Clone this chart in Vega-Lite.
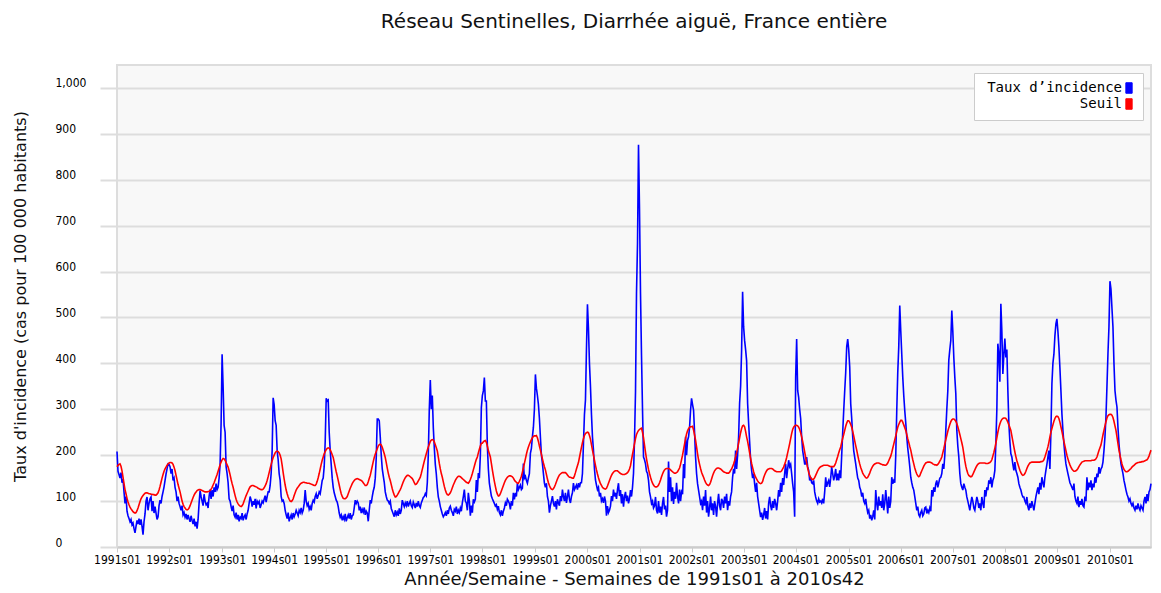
{
"$schema":"https://vega.github.io/schema/vega-lite/v6.json",
"autosize":{"type":"none"},
"width":1034,"height":482,
"padding":{"left":117,"top":65,"right":10,"bottom":46},
"background":"#ffffff",
"title":{"text":"Réseau Sentinelles, Diarrhée aiguë, France entière","font":"DejaVu Sans","fontSize":20,"fontWeight":"normal","color":"#111111","anchor":"middle","offset":33},
"config":{"view":{"fill":"#f8f8f8","stroke":"#dddddd","strokeWidth":2}},
"data":{"values":[
{"w":"1991s01","t":208,"s":175},{"w":"1991s02","t":165,"s":178},{"w":"1991s03","t":158,"s":180},{"w":"1991s04","t":150,"s":181},{"w":"1991s05","t":162,"s":176},{"w":"1991s06","t":140,"s":166},{"w":"1991s07","t":148,"s":152},{"w":"1991s08","t":120,"s":138},{"w":"1991s09","t":95,"s":125},{"w":"1991s10","t":110,"s":116},{"w":"1991s11","t":78,"s":106},{"w":"1991s12","t":68,"s":98},{"w":"1991s13","t":62,"s":92},{"w":"1991s14","t":55,"s":87},{"w":"1991s15","t":60,"s":83},{"w":"1991s16","t":48,"s":80},{"w":"1991s17","t":52,"s":77},{"w":"1991s18","t":40,"s":75},{"w":"1991s19","t":31,"s":74},{"w":"1991s20","t":45,"s":75},{"w":"1991s21","t":58,"s":79},{"w":"1991s22","t":50,"s":85},{"w":"1991s23","t":62,"s":92},{"w":"1991s24","t":48,"s":99},{"w":"1991s25","t":60,"s":105},{"w":"1991s26","t":45,"s":109},{"w":"1991s27","t":27,"s":112},{"w":"1991s28","t":55,"s":115},{"w":"1991s29","t":72,"s":117},{"w":"1991s30","t":100,"s":118},{"w":"1991s31","t":109,"s":118},{"w":"1991s32","t":80,"s":117},{"w":"1991s33","t":95,"s":116},{"w":"1991s34","t":105,"s":116},{"w":"1991s35","t":109,"s":115},{"w":"1991s36","t":78,"s":115},{"w":"1991s37","t":100,"s":114},{"w":"1991s38","t":74,"s":114},{"w":"1991s39","t":88,"s":113},{"w":"1991s40","t":74,"s":113},{"w":"1991s41","t":60,"s":115},{"w":"1991s42","t":66,"s":118},{"w":"1991s43","t":90,"s":124},{"w":"1991s44","t":102,"s":132},{"w":"1991s45","t":95,"s":141},{"w":"1991s46","t":110,"s":150},{"w":"1991s47","t":120,"s":158},{"w":"1991s48","t":131,"s":165},{"w":"1991s49","t":145,"s":170},{"w":"1991s50","t":159,"s":174},{"w":"1991s51","t":170,"s":178},{"w":"1991s52","t":181,"s":181},
{"w":"1992s01","t":180,"s":183},{"w":"1992s02","t":175,"s":184},{"w":"1992s03","t":160,"s":184},{"w":"1992s04","t":170,"s":183},{"w":"1992s05","t":145,"s":180},{"w":"1992s06","t":150,"s":174},{"w":"1992s07","t":130,"s":166},{"w":"1992s08","t":120,"s":156},{"w":"1992s09","t":100,"s":146},{"w":"1992s10","t":110,"s":136},{"w":"1992s11","t":95,"s":128},{"w":"1992s12","t":88,"s":120},{"w":"1992s13","t":80,"s":110},{"w":"1992s14","t":90,"s":100},{"w":"1992s15","t":70,"s":93},{"w":"1992s16","t":75,"s":88},{"w":"1992s17","t":65,"s":85},{"w":"1992s18","t":72,"s":82},{"w":"1992s19","t":60,"s":81},{"w":"1992s20","t":70,"s":82},{"w":"1992s21","t":62,"s":85},{"w":"1992s22","t":55,"s":90},{"w":"1992s23","t":68,"s":96},{"w":"1992s24","t":58,"s":102},{"w":"1992s25","t":50,"s":108},{"w":"1992s26","t":62,"s":113},{"w":"1992s27","t":45,"s":117},{"w":"1992s28","t":55,"s":120},{"w":"1992s29","t":40,"s":123},{"w":"1992s30","t":60,"s":124},{"w":"1992s31","t":95,"s":125},{"w":"1992s32","t":123,"s":125},{"w":"1992s33","t":110,"s":124},{"w":"1992s34","t":100,"s":123},{"w":"1992s35","t":90,"s":122},{"w":"1992s36","t":115,"s":121},{"w":"1992s37","t":100,"s":120},{"w":"1992s38","t":92,"s":120},{"w":"1992s39","t":95,"s":120},{"w":"1992s40","t":85,"s":121},{"w":"1992s41","t":110,"s":121},{"w":"1992s42","t":125,"s":123},{"w":"1992s43","t":105,"s":126},{"w":"1992s44","t":124,"s":130},{"w":"1992s45","t":110,"s":135},{"w":"1992s46","t":130,"s":140},{"w":"1992s47","t":120,"s":146},{"w":"1992s48","t":138,"s":152},{"w":"1992s49","t":125,"s":158},{"w":"1992s50","t":130,"s":165},{"w":"1992s51","t":150,"s":172},{"w":"1992s52","t":180,"s":179},{"w":"1992s53","t":270,"s":185},
{"w":"1993s01","t":420,"s":190},{"w":"1993s02","t":350,"s":193},{"w":"1993s03","t":265,"s":192},{"w":"1993s04","t":250,"s":189},{"w":"1993s05","t":175,"s":184},{"w":"1993s06","t":160,"s":179},{"w":"1993s07","t":140,"s":174},{"w":"1993s08","t":105,"s":166},{"w":"1993s09","t":100,"s":157},{"w":"1993s10","t":88,"s":147},{"w":"1993s11","t":78,"s":138},{"w":"1993s12","t":90,"s":130},{"w":"1993s13","t":70,"s":121},{"w":"1993s14","t":65,"s":112},{"w":"1993s15","t":75,"s":104},{"w":"1993s16","t":60,"s":98},{"w":"1993s17","t":70,"s":94},{"w":"1993s18","t":56,"s":91},{"w":"1993s19","t":65,"s":89},{"w":"1993s20","t":62,"s":88},{"w":"1993s21","t":74,"s":90},{"w":"1993s22","t":58,"s":94},{"w":"1993s23","t":66,"s":100},{"w":"1993s24","t":70,"s":106},{"w":"1993s25","t":60,"s":112},{"w":"1993s26","t":72,"s":117},{"w":"1993s27","t":80,"s":122},{"w":"1993s28","t":95,"s":127},{"w":"1993s29","t":110,"s":131},{"w":"1993s30","t":102,"s":133},{"w":"1993s31","t":88,"s":134},{"w":"1993s32","t":100,"s":134},{"w":"1993s33","t":92,"s":133},{"w":"1993s34","t":105,"s":132},{"w":"1993s35","t":84,"s":131},{"w":"1993s36","t":100,"s":130},{"w":"1993s37","t":95,"s":128},{"w":"1993s38","t":99,"s":127},{"w":"1993s39","t":85,"s":126},{"w":"1993s40","t":92,"s":125},{"w":"1993s41","t":100,"s":125},{"w":"1993s42","t":96,"s":126},{"w":"1993s43","t":104,"s":129},{"w":"1993s44","t":112,"s":133},{"w":"1993s45","t":98,"s":138},{"w":"1993s46","t":110,"s":145},{"w":"1993s47","t":120,"s":153},{"w":"1993s48","t":120,"s":162},{"w":"1993s49","t":134,"s":171},{"w":"1993s50","t":160,"s":180},{"w":"1993s51","t":210,"s":188},{"w":"1993s52","t":325,"s":195},
{"w":"1994s01","t":310,"s":200},{"w":"1994s02","t":275,"s":205},{"w":"1994s03","t":265,"s":208},{"w":"1994s04","t":210,"s":209},{"w":"1994s05","t":190,"s":208},{"w":"1994s06","t":160,"s":205},{"w":"1994s07","t":145,"s":200},{"w":"1994s08","t":110,"s":192},{"w":"1994s09","t":100,"s":178},{"w":"1994s10","t":102,"s":162},{"w":"1994s11","t":95,"s":148},{"w":"1994s12","t":80,"s":135},{"w":"1994s13","t":70,"s":124},{"w":"1994s14","t":62,"s":116},{"w":"1994s15","t":75,"s":109},{"w":"1994s16","t":56,"s":104},{"w":"1994s17","t":64,"s":100},{"w":"1994s18","t":70,"s":99},{"w":"1994s19","t":60,"s":101},{"w":"1994s20","t":74,"s":105},{"w":"1994s21","t":66,"s":112},{"w":"1994s22","t":72,"s":118},{"w":"1994s23","t":80,"s":124},{"w":"1994s24","t":74,"s":128},{"w":"1994s25","t":68,"s":131},{"w":"1994s26","t":80,"s":134},{"w":"1994s27","t":75,"s":137},{"w":"1994s28","t":85,"s":139},{"w":"1994s29","t":74,"s":140},{"w":"1994s30","t":80,"s":141},{"w":"1994s31","t":95,"s":141},{"w":"1994s32","t":124,"s":140},{"w":"1994s33","t":100,"s":140},{"w":"1994s34","t":90,"s":139},{"w":"1994s35","t":95,"s":139},{"w":"1994s36","t":82,"s":139},{"w":"1994s37","t":88,"s":138},{"w":"1994s38","t":80,"s":137},{"w":"1994s39","t":95,"s":136},{"w":"1994s40","t":102,"s":135},{"w":"1994s41","t":98,"s":134},{"w":"1994s42","t":110,"s":134},{"w":"1994s43","t":116,"s":137},{"w":"1994s44","t":105,"s":143},{"w":"1994s45","t":112,"s":151},{"w":"1994s46","t":120,"s":160},{"w":"1994s47","t":116,"s":170},{"w":"1994s48","t":130,"s":180},{"w":"1994s49","t":145,"s":189},{"w":"1994s50","t":150,"s":196},{"w":"1994s51","t":175,"s":203},{"w":"1994s52","t":230,"s":208},
{"w":"1995s01","t":324,"s":212},{"w":"1995s02","t":318,"s":215},{"w":"1995s03","t":320,"s":216},{"w":"1995s04","t":250,"s":215},{"w":"1995s05","t":210,"s":212},{"w":"1995s06","t":180,"s":207},{"w":"1995s07","t":150,"s":201},{"w":"1995s08","t":130,"s":195},{"w":"1995s09","t":118,"s":185},{"w":"1995s10","t":110,"s":174},{"w":"1995s11","t":102,"s":164},{"w":"1995s12","t":98,"s":155},{"w":"1995s13","t":88,"s":145},{"w":"1995s14","t":74,"s":135},{"w":"1995s15","t":65,"s":125},{"w":"1995s16","t":70,"s":116},{"w":"1995s17","t":58,"s":110},{"w":"1995s18","t":66,"s":106},{"w":"1995s19","t":60,"s":105},{"w":"1995s20","t":72,"s":105},{"w":"1995s21","t":56,"s":107},{"w":"1995s22","t":64,"s":110},{"w":"1995s23","t":70,"s":116},{"w":"1995s24","t":62,"s":122},{"w":"1995s25","t":74,"s":128},{"w":"1995s26","t":60,"s":133},{"w":"1995s27","t":68,"s":138},{"w":"1995s28","t":70,"s":142},{"w":"1995s29","t":85,"s":145},{"w":"1995s30","t":102,"s":147},{"w":"1995s31","t":95,"s":148},{"w":"1995s32","t":100,"s":149},{"w":"1995s33","t":96,"s":148},{"w":"1995s34","t":80,"s":147},{"w":"1995s35","t":88,"s":146},{"w":"1995s36","t":74,"s":145},{"w":"1995s37","t":82,"s":143},{"w":"1995s38","t":76,"s":140},{"w":"1995s39","t":86,"s":137},{"w":"1995s40","t":70,"s":134},{"w":"1995s41","t":78,"s":134},{"w":"1995s42","t":74,"s":136},{"w":"1995s43","t":56,"s":142},{"w":"1995s44","t":80,"s":149},{"w":"1995s45","t":102,"s":156},{"w":"1995s46","t":95,"s":166},{"w":"1995s47","t":110,"s":176},{"w":"1995s48","t":122,"s":186},{"w":"1995s49","t":130,"s":195},{"w":"1995s50","t":150,"s":202},{"w":"1995s51","t":195,"s":208},{"w":"1995s52","t":279,"s":214},
{"w":"1996s01","t":279,"s":220},{"w":"1996s02","t":275,"s":223},{"w":"1996s03","t":240,"s":224},{"w":"1996s04","t":200,"s":222},{"w":"1996s05","t":170,"s":217},{"w":"1996s06","t":155,"s":210},{"w":"1996s07","t":141,"s":203},{"w":"1996s08","t":120,"s":195},{"w":"1996s09","t":110,"s":184},{"w":"1996s10","t":102,"s":172},{"w":"1996s11","t":100,"s":161},{"w":"1996s12","t":95,"s":152},{"w":"1996s13","t":100,"s":145},{"w":"1996s14","t":84,"s":136},{"w":"1996s15","t":78,"s":127},{"w":"1996s16","t":72,"s":119},{"w":"1996s17","t":66,"s":113},{"w":"1996s18","t":80,"s":109},{"w":"1996s19","t":70,"s":110},{"w":"1996s20","t":76,"s":113},{"w":"1996s21","t":68,"s":117},{"w":"1996s22","t":84,"s":121},{"w":"1996s23","t":72,"s":125},{"w":"1996s24","t":80,"s":130},{"w":"1996s25","t":102,"s":136},{"w":"1996s26","t":95,"s":142},{"w":"1996s27","t":88,"s":147},{"w":"1996s28","t":96,"s":151},{"w":"1996s29","t":90,"s":154},{"w":"1996s30","t":100,"s":156},{"w":"1996s31","t":88,"s":156},{"w":"1996s32","t":95,"s":155},{"w":"1996s33","t":100,"s":153},{"w":"1996s34","t":90,"s":151},{"w":"1996s35","t":86,"s":149},{"w":"1996s36","t":98,"s":145},{"w":"1996s37","t":92,"s":140},{"w":"1996s38","t":85,"s":136},{"w":"1996s39","t":96,"s":137},{"w":"1996s40","t":88,"s":140},{"w":"1996s41","t":100,"s":144},{"w":"1996s42","t":90,"s":148},{"w":"1996s43","t":86,"s":152},{"w":"1996s44","t":96,"s":160},{"w":"1996s45","t":102,"s":169},{"w":"1996s46","t":108,"s":178},{"w":"1996s47","t":110,"s":187},{"w":"1996s48","t":116,"s":195},{"w":"1996s49","t":112,"s":203},{"w":"1996s50","t":140,"s":211},{"w":"1996s51","t":202,"s":218},{"w":"1996s52","t":300,"s":224},
{"w":"1997s01","t":364,"s":230},{"w":"1997s02","t":300,"s":233},{"w":"1997s03","t":330,"s":234},{"w":"1997s04","t":260,"s":233},{"w":"1997s05","t":216,"s":229},{"w":"1997s06","t":180,"s":223},{"w":"1997s07","t":159,"s":216},{"w":"1997s08","t":130,"s":209},{"w":"1997s09","t":109,"s":196},{"w":"1997s10","t":100,"s":182},{"w":"1997s11","t":88,"s":170},{"w":"1997s12","t":80,"s":160},{"w":"1997s13","t":72,"s":152},{"w":"1997s14","t":66,"s":142},{"w":"1997s15","t":70,"s":132},{"w":"1997s16","t":75,"s":124},{"w":"1997s17","t":68,"s":118},{"w":"1997s18","t":80,"s":114},{"w":"1997s19","t":72,"s":113},{"w":"1997s20","t":85,"s":115},{"w":"1997s21","t":89,"s":118},{"w":"1997s22","t":80,"s":123},{"w":"1997s23","t":75,"s":129},{"w":"1997s24","t":68,"s":135},{"w":"1997s25","t":82,"s":140},{"w":"1997s26","t":78,"s":145},{"w":"1997s27","t":88,"s":149},{"w":"1997s28","t":72,"s":152},{"w":"1997s29","t":80,"s":154},{"w":"1997s30","t":75,"s":154},{"w":"1997s31","t":85,"s":153},{"w":"1997s32","t":78,"s":151},{"w":"1997s33","t":96,"s":149},{"w":"1997s34","t":110,"s":147},{"w":"1997s35","t":125,"s":145},{"w":"1997s36","t":100,"s":143},{"w":"1997s37","t":96,"s":141},{"w":"1997s38","t":80,"s":140},{"w":"1997s39","t":118,"s":139},{"w":"1997s40","t":100,"s":142},{"w":"1997s41","t":68,"s":147},{"w":"1997s42","t":90,"s":153},{"w":"1997s43","t":75,"s":160},{"w":"1997s44","t":104,"s":168},{"w":"1997s45","t":98,"s":176},{"w":"1997s46","t":104,"s":184},{"w":"1997s47","t":146,"s":191},{"w":"1997s48","t":120,"s":196},{"w":"1997s49","t":161,"s":205},{"w":"1997s50","t":150,"s":213},{"w":"1997s51","t":200,"s":220},{"w":"1997s52","t":304,"s":226},
{"w":"1998s01","t":330,"s":226},{"w":"1998s02","t":340,"s":229},{"w":"1998s03","t":369,"s":231},{"w":"1998s04","t":318,"s":232},{"w":"1998s05","t":318,"s":228},{"w":"1998s06","t":220,"s":220},{"w":"1998s07","t":170,"s":210},{"w":"1998s08","t":139,"s":203},{"w":"1998s09","t":125,"s":196},{"w":"1998s10","t":111,"s":182},{"w":"1998s11","t":105,"s":168},{"w":"1998s12","t":100,"s":155},{"w":"1998s13","t":95,"s":143},{"w":"1998s14","t":89,"s":132},{"w":"1998s15","t":92,"s":122},{"w":"1998s16","t":82,"s":115},{"w":"1998s17","t":89,"s":111},{"w":"1998s18","t":75,"s":112},{"w":"1998s19","t":70,"s":116},{"w":"1998s20","t":80,"s":122},{"w":"1998s21","t":68,"s":128},{"w":"1998s22","t":78,"s":134},{"w":"1998s23","t":85,"s":140},{"w":"1998s24","t":96,"s":145},{"w":"1998s25","t":90,"s":149},{"w":"1998s26","t":104,"s":152},{"w":"1998s27","t":100,"s":154},{"w":"1998s28","t":95,"s":155},{"w":"1998s29","t":82,"s":155},{"w":"1998s30","t":100,"s":154},{"w":"1998s31","t":90,"s":153},{"w":"1998s32","t":118,"s":150},{"w":"1998s33","t":104,"s":146},{"w":"1998s34","t":118,"s":143},{"w":"1998s35","t":110,"s":141},{"w":"1998s36","t":139,"s":139},{"w":"1998s37","t":125,"s":139},{"w":"1998s38","t":130,"s":143},{"w":"1998s39","t":135,"s":148},{"w":"1998s40","t":125,"s":154},{"w":"1998s41","t":128,"s":163},{"w":"1998s42","t":182,"s":172},{"w":"1998s43","t":150,"s":182},{"w":"1998s44","t":154,"s":192},{"w":"1998s45","t":145,"s":202},{"w":"1998s46","t":139,"s":211},{"w":"1998s47","t":150,"s":218},{"w":"1998s48","t":160,"s":224},{"w":"1998s49","t":204,"s":229},{"w":"1998s50","t":215,"s":234},{"w":"1998s51","t":240,"s":238},{"w":"1998s52","t":261,"s":241},{"w":"1998s53","t":300,"s":242},
{"w":"1999s01","t":376,"s":242},{"w":"1999s02","t":346,"s":243},{"w":"1999s03","t":330,"s":238},{"w":"1999s04","t":311,"s":230},{"w":"1999s05","t":280,"s":220},{"w":"1999s06","t":239,"s":211},{"w":"1999s07","t":200,"s":202},{"w":"1999s08","t":182,"s":192},{"w":"1999s09","t":160,"s":183},{"w":"1999s10","t":139,"s":175},{"w":"1999s11","t":130,"s":168},{"w":"1999s12","t":139,"s":158},{"w":"1999s13","t":110,"s":148},{"w":"1999s14","t":100,"s":140},{"w":"1999s15","t":75,"s":134},{"w":"1999s16","t":90,"s":129},{"w":"1999s17","t":100,"s":126},{"w":"1999s18","t":111,"s":125},{"w":"1999s19","t":95,"s":127},{"w":"1999s20","t":88,"s":131},{"w":"1999s21","t":100,"s":136},{"w":"1999s22","t":82,"s":142},{"w":"1999s23","t":104,"s":148},{"w":"1999s24","t":96,"s":153},{"w":"1999s25","t":90,"s":157},{"w":"1999s26","t":111,"s":159},{"w":"1999s27","t":100,"s":161},{"w":"1999s28","t":125,"s":162},{"w":"1999s29","t":110,"s":162},{"w":"1999s30","t":100,"s":162},{"w":"1999s31","t":118,"s":162},{"w":"1999s32","t":96,"s":160},{"w":"1999s33","t":110,"s":157},{"w":"1999s34","t":125,"s":154},{"w":"1999s35","t":104,"s":152},{"w":"1999s36","t":96,"s":152},{"w":"1999s37","t":110,"s":151},{"w":"1999s38","t":118,"s":150},{"w":"1999s39","t":139,"s":150},{"w":"1999s40","t":125,"s":155},{"w":"1999s41","t":130,"s":162},{"w":"1999s42","t":135,"s":170},{"w":"1999s43","t":125,"s":177},{"w":"1999s44","t":139,"s":184},{"w":"1999s45","t":130,"s":195},{"w":"1999s46","t":140,"s":206},{"w":"1999s47","t":140,"s":217},{"w":"1999s48","t":160,"s":227},{"w":"1999s49","t":225,"s":236},{"w":"1999s50","t":289,"s":243},{"w":"1999s51","t":320,"s":247},{"w":"1999s52","t":430,"s":249},
{"w":"2000s01","t":529,"s":250},{"w":"2000s02","t":476,"s":249},{"w":"2000s03","t":400,"s":243},{"w":"2000s04","t":350,"s":235},{"w":"2000s05","t":289,"s":223},{"w":"2000s06","t":240,"s":211},{"w":"2000s07","t":211,"s":200},{"w":"2000s08","t":170,"s":189},{"w":"2000s09","t":146,"s":178},{"w":"2000s10","t":135,"s":168},{"w":"2000s11","t":125,"s":159},{"w":"2000s12","t":130,"s":151},{"w":"2000s13","t":110,"s":144},{"w":"2000s14","t":118,"s":138},{"w":"2000s15","t":100,"s":134},{"w":"2000s16","t":105,"s":130},{"w":"2000s17","t":96,"s":128},{"w":"2000s18","t":110,"s":127},{"w":"2000s19","t":100,"s":126},{"w":"2000s20","t":68,"s":128},{"w":"2000s21","t":89,"s":133},{"w":"2000s22","t":75,"s":139},{"w":"2000s23","t":80,"s":145},{"w":"2000s24","t":89,"s":151},{"w":"2000s25","t":111,"s":156},{"w":"2000s26","t":100,"s":160},{"w":"2000s27","t":125,"s":163},{"w":"2000s28","t":110,"s":165},{"w":"2000s29","t":118,"s":166},{"w":"2000s30","t":105,"s":166},{"w":"2000s31","t":125,"s":166},{"w":"2000s32","t":139,"s":164},{"w":"2000s33","t":111,"s":162},{"w":"2000s34","t":124,"s":160},{"w":"2000s35","t":95,"s":159},{"w":"2000s36","t":115,"s":158},{"w":"2000s37","t":88,"s":158},{"w":"2000s38","t":110,"s":158},{"w":"2000s39","t":120,"s":159},{"w":"2000s40","t":100,"s":160},{"w":"2000s41","t":112,"s":162},{"w":"2000s42","t":95,"s":165},{"w":"2000s43","t":105,"s":170},{"w":"2000s44","t":124,"s":177},{"w":"2000s45","t":110,"s":190},{"w":"2000s46","t":130,"s":202},{"w":"2000s47","t":160,"s":213},{"w":"2000s48","t":233,"s":225},{"w":"2000s49","t":337,"s":236},{"w":"2000s50","t":552,"s":245},{"w":"2000s51","t":660,"s":250},{"w":"2000s52","t":876,"s":254},
{"w":"2001s01","t":736,"s":256},{"w":"2001s02","t":552,"s":258},{"w":"2001s03","t":417,"s":259},{"w":"2001s04","t":300,"s":250},{"w":"2001s05","t":196,"s":238},{"w":"2001s06","t":190,"s":222},{"w":"2001s07","t":181,"s":206},{"w":"2001s08","t":165,"s":192},{"w":"2001s09","t":160,"s":180},{"w":"2001s10","t":145,"s":169},{"w":"2001s11","t":120,"s":160},{"w":"2001s12","t":109,"s":152},{"w":"2001s13","t":95,"s":145},{"w":"2001s14","t":100,"s":139},{"w":"2001s15","t":85,"s":135},{"w":"2001s16","t":90,"s":132},{"w":"2001s17","t":109,"s":131},{"w":"2001s18","t":80,"s":131},{"w":"2001s19","t":73,"s":132},{"w":"2001s20","t":100,"s":135},{"w":"2001s21","t":75,"s":140},{"w":"2001s22","t":88,"s":146},{"w":"2001s23","t":70,"s":153},{"w":"2001s24","t":95,"s":159},{"w":"2001s25","t":109,"s":164},{"w":"2001s26","t":82,"s":168},{"w":"2001s27","t":90,"s":170},{"w":"2001s28","t":66,"s":171},{"w":"2001s29","t":80,"s":171},{"w":"2001s30","t":186,"s":171},{"w":"2001s31","t":120,"s":170},{"w":"2001s32","t":152,"s":168},{"w":"2001s33","t":100,"s":166},{"w":"2001s34","t":130,"s":164},{"w":"2001s35","t":94,"s":162},{"w":"2001s36","t":120,"s":161},{"w":"2001s37","t":105,"s":161},{"w":"2001s38","t":140,"s":162},{"w":"2001s39","t":110,"s":164},{"w":"2001s40","t":95,"s":168},{"w":"2001s41","t":125,"s":172},{"w":"2001s42","t":100,"s":180},{"w":"2001s43","t":120,"s":190},{"w":"2001s44","t":115,"s":200},{"w":"2001s45","t":181,"s":212},{"w":"2001s46","t":150,"s":224},{"w":"2001s47","t":240,"s":236},{"w":"2001s48","t":200,"s":246},{"w":"2001s49","t":232,"s":253},{"w":"2001s50","t":240,"s":258},{"w":"2001s51","t":260,"s":261},{"w":"2001s52","t":298,"s":262},
{"w":"2002s01","t":324,"s":262},{"w":"2002s02","t":310,"s":263},{"w":"2002s03","t":298,"s":255},{"w":"2002s04","t":250,"s":244},{"w":"2002s05","t":196,"s":233},{"w":"2002s06","t":160,"s":218},{"w":"2002s07","t":138,"s":203},{"w":"2002s08","t":124,"s":190},{"w":"2002s09","t":110,"s":180},{"w":"2002s10","t":95,"s":171},{"w":"2002s11","t":100,"s":163},{"w":"2002s12","t":80,"s":157},{"w":"2002s13","t":110,"s":152},{"w":"2002s14","t":90,"s":146},{"w":"2002s15","t":124,"s":141},{"w":"2002s16","t":75,"s":137},{"w":"2002s17","t":100,"s":135},{"w":"2002s18","t":66,"s":134},{"w":"2002s19","t":85,"s":136},{"w":"2002s20","t":110,"s":141},{"w":"2002s21","t":80,"s":148},{"w":"2002s22","t":95,"s":155},{"w":"2002s23","t":70,"s":161},{"w":"2002s24","t":100,"s":166},{"w":"2002s25","t":88,"s":169},{"w":"2002s26","t":66,"s":171},{"w":"2002s27","t":95,"s":172},{"w":"2002s28","t":116,"s":172},{"w":"2002s29","t":90,"s":171},{"w":"2002s30","t":80,"s":170},{"w":"2002s31","t":105,"s":168},{"w":"2002s32","t":100,"s":166},{"w":"2002s33","t":85,"s":164},{"w":"2002s34","t":110,"s":163},{"w":"2002s35","t":95,"s":162},{"w":"2002s36","t":116,"s":161},{"w":"2002s37","t":80,"s":161},{"w":"2002s38","t":100,"s":161},{"w":"2002s39","t":90,"s":163},{"w":"2002s40","t":110,"s":167},{"w":"2002s41","t":120,"s":170},{"w":"2002s42","t":152,"s":175},{"w":"2002s43","t":170,"s":181},{"w":"2002s44","t":160,"s":188},{"w":"2002s45","t":210,"s":196},{"w":"2002s46","t":170,"s":205},{"w":"2002s47","t":200,"s":215},{"w":"2002s48","t":240,"s":226},{"w":"2002s49","t":313,"s":238},{"w":"2002s50","t":350,"s":249},{"w":"2002s51","t":428,"s":258},{"w":"2002s52","t":556,"s":264},
{"w":"2003s01","t":480,"s":265},{"w":"2003s02","t":450,"s":262},{"w":"2003s03","t":430,"s":252},{"w":"2003s04","t":406,"s":240},{"w":"2003s05","t":313,"s":230},{"w":"2003s06","t":270,"s":218},{"w":"2003s07","t":230,"s":205},{"w":"2003s08","t":190,"s":193},{"w":"2003s09","t":167,"s":182},{"w":"2003s10","t":150,"s":173},{"w":"2003s11","t":160,"s":164},{"w":"2003s12","t":138,"s":157},{"w":"2003s13","t":120,"s":152},{"w":"2003s14","t":140,"s":148},{"w":"2003s15","t":110,"s":144},{"w":"2003s16","t":95,"s":141},{"w":"2003s17","t":80,"s":139},{"w":"2003s18","t":65,"s":138},{"w":"2003s19","t":75,"s":139},{"w":"2003s20","t":59,"s":143},{"w":"2003s21","t":70,"s":151},{"w":"2003s22","t":85,"s":157},{"w":"2003s23","t":62,"s":162},{"w":"2003s24","t":78,"s":166},{"w":"2003s25","t":60,"s":169},{"w":"2003s26","t":95,"s":170},{"w":"2003s27","t":109,"s":171},{"w":"2003s28","t":90,"s":171},{"w":"2003s29","t":80,"s":171},{"w":"2003s30","t":100,"s":170},{"w":"2003s31","t":85,"s":168},{"w":"2003s32","t":105,"s":166},{"w":"2003s33","t":95,"s":165},{"w":"2003s34","t":80,"s":164},{"w":"2003s35","t":100,"s":164},{"w":"2003s36","t":124,"s":164},{"w":"2003s37","t":110,"s":164},{"w":"2003s38","t":140,"s":164},{"w":"2003s39","t":120,"s":166},{"w":"2003s40","t":150,"s":170},{"w":"2003s41","t":135,"s":174},{"w":"2003s42","t":160,"s":180},{"w":"2003s43","t":181,"s":187},{"w":"2003s44","t":150,"s":195},{"w":"2003s45","t":170,"s":205},{"w":"2003s46","t":189,"s":215},{"w":"2003s47","t":175,"s":225},{"w":"2003s48","t":180,"s":236},{"w":"2003s49","t":160,"s":247},{"w":"2003s50","t":138,"s":256},{"w":"2003s51","t":120,"s":261},{"w":"2003s52","t":66,"s":264},
{"w":"2004s01","t":370,"s":265},{"w":"2004s02","t":453,"s":265},{"w":"2004s03","t":341,"s":264},{"w":"2004s04","t":326,"s":261},{"w":"2004s05","t":300,"s":256},{"w":"2004s06","t":280,"s":249},{"w":"2004s07","t":240,"s":240},{"w":"2004s08","t":210,"s":230},{"w":"2004s09","t":196,"s":219},{"w":"2004s10","t":181,"s":207},{"w":"2004s11","t":181,"s":195},{"w":"2004s12","t":196,"s":183},{"w":"2004s13","t":175,"s":172},{"w":"2004s14","t":167,"s":163},{"w":"2004s15","t":145,"s":156},{"w":"2004s16","t":152,"s":151},{"w":"2004s17","t":140,"s":148},{"w":"2004s18","t":138,"s":147},{"w":"2004s19","t":145,"s":148},{"w":"2004s20","t":120,"s":151},{"w":"2004s21","t":109,"s":156},{"w":"2004s22","t":100,"s":161},{"w":"2004s23","t":95,"s":166},{"w":"2004s24","t":105,"s":170},{"w":"2004s25","t":98,"s":173},{"w":"2004s26","t":100,"s":175},{"w":"2004s27","t":96,"s":176},{"w":"2004s28","t":105,"s":177},{"w":"2004s29","t":95,"s":178},{"w":"2004s30","t":120,"s":178},{"w":"2004s31","t":152,"s":178},{"w":"2004s32","t":131,"s":178},{"w":"2004s33","t":140,"s":178},{"w":"2004s34","t":145,"s":177},{"w":"2004s35","t":131,"s":176},{"w":"2004s36","t":150,"s":175},{"w":"2004s37","t":174,"s":175},{"w":"2004s38","t":160,"s":175},{"w":"2004s39","t":145,"s":175},{"w":"2004s40","t":155,"s":178},{"w":"2004s41","t":170,"s":183},{"w":"2004s42","t":145,"s":190},{"w":"2004s43","t":160,"s":197},{"w":"2004s44","t":145,"s":205},{"w":"2004s45","t":167,"s":212},{"w":"2004s46","t":150,"s":218},{"w":"2004s47","t":200,"s":228},{"w":"2004s48","t":250,"s":237},{"w":"2004s49","t":297,"s":245},{"w":"2004s50","t":340,"s":254},{"w":"2004s51","t":380,"s":263},{"w":"2004s52","t":436,"s":270},{"w":"2004s53","t":453,"s":275},
{"w":"2005s01","t":430,"s":275},{"w":"2005s02","t":392,"s":272},{"w":"2005s03","t":312,"s":267},{"w":"2005s04","t":280,"s":261},{"w":"2005s05","t":240,"s":252},{"w":"2005s06","t":210,"s":242},{"w":"2005s07","t":195,"s":231},{"w":"2005s08","t":181,"s":221},{"w":"2005s09","t":165,"s":211},{"w":"2005s10","t":150,"s":200},{"w":"2005s11","t":145,"s":190},{"w":"2005s12","t":130,"s":181},{"w":"2005s13","t":124,"s":173},{"w":"2005s14","t":110,"s":167},{"w":"2005s15","t":118,"s":161},{"w":"2005s16","t":100,"s":157},{"w":"2005s17","t":95,"s":154},{"w":"2005s18","t":105,"s":151},{"w":"2005s19","t":87,"s":150},{"w":"2005s20","t":75,"s":152},{"w":"2005s21","t":80,"s":156},{"w":"2005s22","t":62,"s":161},{"w":"2005s23","t":70,"s":167},{"w":"2005s24","t":58,"s":172},{"w":"2005s25","t":66,"s":176},{"w":"2005s26","t":80,"s":179},{"w":"2005s27","t":60,"s":181},{"w":"2005s28","t":124,"s":182},{"w":"2005s29","t":95,"s":183},{"w":"2005s30","t":80,"s":183},{"w":"2005s31","t":110,"s":183},{"w":"2005s32","t":90,"s":182},{"w":"2005s33","t":100,"s":181},{"w":"2005s34","t":85,"s":180},{"w":"2005s35","t":115,"s":179},{"w":"2005s36","t":80,"s":179},{"w":"2005s37","t":95,"s":178},{"w":"2005s38","t":124,"s":178},{"w":"2005s39","t":100,"s":180},{"w":"2005s40","t":73,"s":183},{"w":"2005s41","t":110,"s":188},{"w":"2005s42","t":85,"s":193},{"w":"2005s43","t":100,"s":198},{"w":"2005s44","t":152,"s":206},{"w":"2005s45","t":138,"s":215},{"w":"2005s46","t":145,"s":224},{"w":"2005s47","t":140,"s":233},{"w":"2005s48","t":200,"s":242},{"w":"2005s49","t":297,"s":252},{"w":"2005s50","t":380,"s":261},{"w":"2005s51","t":436,"s":267},{"w":"2005s52","t":526,"s":272},
{"w":"2006s01","t":471,"s":276},{"w":"2006s02","t":420,"s":276},{"w":"2006s03","t":370,"s":272},{"w":"2006s04","t":330,"s":266},{"w":"2006s05","t":297,"s":260},{"w":"2006s06","t":270,"s":254},{"w":"2006s07","t":240,"s":245},{"w":"2006s08","t":215,"s":236},{"w":"2006s09","t":196,"s":228},{"w":"2006s10","t":175,"s":219},{"w":"2006s11","t":152,"s":211},{"w":"2006s12","t":140,"s":200},{"w":"2006s13","t":130,"s":190},{"w":"2006s14","t":124,"s":181},{"w":"2006s15","t":110,"s":172},{"w":"2006s16","t":95,"s":165},{"w":"2006s17","t":80,"s":159},{"w":"2006s18","t":88,"s":155},{"w":"2006s19","t":70,"s":153},{"w":"2006s20","t":66,"s":155},{"w":"2006s21","t":75,"s":161},{"w":"2006s22","t":80,"s":166},{"w":"2006s23","t":68,"s":171},{"w":"2006s24","t":72,"s":176},{"w":"2006s25","t":85,"s":180},{"w":"2006s26","t":87,"s":183},{"w":"2006s27","t":73,"s":184},{"w":"2006s28","t":80,"s":185},{"w":"2006s29","t":75,"s":185},{"w":"2006s30","t":85,"s":185},{"w":"2006s31","t":78,"s":184},{"w":"2006s32","t":124,"s":183},{"w":"2006s33","t":110,"s":181},{"w":"2006s34","t":130,"s":180},{"w":"2006s35","t":120,"s":179},{"w":"2006s36","t":138,"s":179},{"w":"2006s37","t":145,"s":178},{"w":"2006s38","t":130,"s":180},{"w":"2006s39","t":140,"s":183},{"w":"2006s40","t":150,"s":187},{"w":"2006s41","t":152,"s":191},{"w":"2006s42","t":160,"s":196},{"w":"2006s43","t":181,"s":205},{"w":"2006s44","t":170,"s":214},{"w":"2006s45","t":200,"s":224},{"w":"2006s46","t":254,"s":234},{"w":"2006s47","t":300,"s":243},{"w":"2006s48","t":340,"s":252},{"w":"2006s49","t":407,"s":260},{"w":"2006s50","t":430,"s":267},{"w":"2006s51","t":450,"s":273},{"w":"2006s52","t":515,"s":277},
{"w":"2007s01","t":470,"s":279},{"w":"2007s02","t":413,"s":279},{"w":"2007s03","t":370,"s":277},{"w":"2007s04","t":334,"s":274},{"w":"2007s05","t":254,"s":269},{"w":"2007s06","t":220,"s":262},{"w":"2007s07","t":196,"s":254},{"w":"2007s08","t":160,"s":245},{"w":"2007s09","t":138,"s":236},{"w":"2007s10","t":130,"s":227},{"w":"2007s11","t":124,"s":217},{"w":"2007s12","t":138,"s":203},{"w":"2007s13","t":130,"s":188},{"w":"2007s14","t":124,"s":176},{"w":"2007s15","t":109,"s":167},{"w":"2007s16","t":100,"s":160},{"w":"2007s17","t":90,"s":156},{"w":"2007s18","t":80,"s":154},{"w":"2007s19","t":95,"s":153},{"w":"2007s20","t":109,"s":154},{"w":"2007s21","t":100,"s":158},{"w":"2007s22","t":85,"s":163},{"w":"2007s23","t":80,"s":168},{"w":"2007s24","t":95,"s":173},{"w":"2007s25","t":109,"s":177},{"w":"2007s26","t":100,"s":180},{"w":"2007s27","t":85,"s":182},{"w":"2007s28","t":95,"s":183},{"w":"2007s29","t":80,"s":183},{"w":"2007s30","t":109,"s":183},{"w":"2007s31","t":95,"s":183},{"w":"2007s32","t":85,"s":183},{"w":"2007s33","t":124,"s":183},{"w":"2007s34","t":110,"s":182},{"w":"2007s35","t":130,"s":182},{"w":"2007s36","t":124,"s":182},{"w":"2007s37","t":145,"s":183},{"w":"2007s38","t":138,"s":184},{"w":"2007s39","t":152,"s":186},{"w":"2007s40","t":130,"s":190},{"w":"2007s41","t":145,"s":198},{"w":"2007s42","t":152,"s":206},{"w":"2007s43","t":167,"s":215},{"w":"2007s44","t":225,"s":226},{"w":"2007s45","t":300,"s":238},{"w":"2007s46","t":443,"s":250},{"w":"2007s47","t":420,"s":260},{"w":"2007s48","t":360,"s":268},{"w":"2007s49","t":530,"s":274},{"w":"2007s50","t":470,"s":278},{"w":"2007s51","t":377,"s":280},{"w":"2007s52","t":420,"s":281},
{"w":"2008s01","t":454,"s":281},{"w":"2008s02","t":413,"s":280},{"w":"2008s03","t":430,"s":277},{"w":"2008s04","t":341,"s":272},{"w":"2008s05","t":269,"s":266},{"w":"2008s06","t":230,"s":260},{"w":"2008s07","t":203,"s":254},{"w":"2008s08","t":196,"s":242},{"w":"2008s09","t":180,"s":230},{"w":"2008s10","t":167,"s":218},{"w":"2008s11","t":185,"s":207},{"w":"2008s12","t":167,"s":197},{"w":"2008s13","t":160,"s":188},{"w":"2008s14","t":152,"s":181},{"w":"2008s15","t":138,"s":174},{"w":"2008s16","t":130,"s":167},{"w":"2008s17","t":124,"s":162},{"w":"2008s18","t":115,"s":158},{"w":"2008s19","t":109,"s":156},{"w":"2008s20","t":109,"s":157},{"w":"2008s21","t":100,"s":160},{"w":"2008s22","t":95,"s":165},{"w":"2008s23","t":109,"s":171},{"w":"2008s24","t":88,"s":176},{"w":"2008s25","t":80,"s":180},{"w":"2008s26","t":95,"s":183},{"w":"2008s27","t":85,"s":184},{"w":"2008s28","t":100,"s":185},{"w":"2008s29","t":90,"s":185},{"w":"2008s30","t":80,"s":185},{"w":"2008s31","t":95,"s":185},{"w":"2008s32","t":109,"s":185},{"w":"2008s33","t":120,"s":185},{"w":"2008s34","t":130,"s":185},{"w":"2008s35","t":115,"s":185},{"w":"2008s36","t":140,"s":185},{"w":"2008s37","t":125,"s":186},{"w":"2008s38","t":152,"s":186},{"w":"2008s39","t":140,"s":187},{"w":"2008s40","t":130,"s":190},{"w":"2008s41","t":152,"s":196},{"w":"2008s42","t":167,"s":203},{"w":"2008s43","t":180,"s":210},{"w":"2008s44","t":196,"s":218},{"w":"2008s45","t":210,"s":228},{"w":"2008s46","t":170,"s":240},{"w":"2008s47","t":250,"s":250},{"w":"2008s48","t":355,"s":258},{"w":"2008s49","t":400,"s":266},{"w":"2008s50","t":420,"s":274},{"w":"2008s51","t":460,"s":280},{"w":"2008s52","t":486,"s":284},
{"w":"2009s01","t":497,"s":285},{"w":"2009s02","t":470,"s":284},{"w":"2009s03","t":435,"s":280},{"w":"2009s04","t":390,"s":272},{"w":"2009s05","t":341,"s":262},{"w":"2009s06","t":290,"s":252},{"w":"2009s07","t":254,"s":241},{"w":"2009s08","t":225,"s":230},{"w":"2009s09","t":200,"s":220},{"w":"2009s10","t":181,"s":210},{"w":"2009s11","t":170,"s":200},{"w":"2009s12","t":160,"s":192},{"w":"2009s13","t":150,"s":185},{"w":"2009s14","t":140,"s":179},{"w":"2009s15","t":135,"s":174},{"w":"2009s16","t":130,"s":170},{"w":"2009s17","t":124,"s":167},{"w":"2009s18","t":138,"s":165},{"w":"2009s19","t":110,"s":165},{"w":"2009s20","t":100,"s":166},{"w":"2009s21","t":95,"s":168},{"w":"2009s22","t":110,"s":171},{"w":"2009s23","t":87,"s":175},{"w":"2009s24","t":100,"s":179},{"w":"2009s25","t":92,"s":182},{"w":"2009s26","t":105,"s":185},{"w":"2009s27","t":90,"s":186},{"w":"2009s28","t":87,"s":187},{"w":"2009s29","t":110,"s":188},{"w":"2009s30","t":100,"s":188},{"w":"2009s31","t":152,"s":188},{"w":"2009s32","t":124,"s":188},{"w":"2009s33","t":140,"s":188},{"w":"2009s34","t":130,"s":188},{"w":"2009s35","t":145,"s":188},{"w":"2009s36","t":124,"s":189},{"w":"2009s37","t":138,"s":189},{"w":"2009s38","t":130,"s":189},{"w":"2009s39","t":152,"s":190},{"w":"2009s40","t":140,"s":192},{"w":"2009s41","t":160,"s":196},{"w":"2009s42","t":152,"s":203},{"w":"2009s43","t":174,"s":210},{"w":"2009s44","t":160,"s":216},{"w":"2009s45","t":170,"s":222},{"w":"2009s46","t":174,"s":233},{"w":"2009s47","t":185,"s":244},{"w":"2009s48","t":210,"s":254},{"w":"2009s49","t":240,"s":264},{"w":"2009s50","t":283,"s":273},{"w":"2009s51","t":350,"s":281},{"w":"2009s52","t":421,"s":286},{"w":"2009s53","t":480,"s":288},
{"w":"2010s01","t":579,"s":289},{"w":"2010s02","t":562,"s":289},{"w":"2010s03","t":520,"s":287},{"w":"2010s04","t":479,"s":282},{"w":"2010s05","t":400,"s":274},{"w":"2010s06","t":341,"s":264},{"w":"2010s07","t":320,"s":254},{"w":"2010s08","t":305,"s":240},{"w":"2010s09","t":260,"s":225},{"w":"2010s10","t":225,"s":211},{"w":"2010s11","t":200,"s":200},{"w":"2010s12","t":181,"s":190},{"w":"2010s13","t":170,"s":181},{"w":"2010s14","t":160,"s":174},{"w":"2010s15","t":145,"s":169},{"w":"2010s16","t":135,"s":166},{"w":"2010s17","t":124,"s":164},{"w":"2010s18","t":115,"s":164},{"w":"2010s19","t":109,"s":165},{"w":"2010s20","t":100,"s":167},{"w":"2010s21","t":105,"s":169},{"w":"2010s22","t":95,"s":171},{"w":"2010s23","t":90,"s":174},{"w":"2010s24","t":95,"s":176},{"w":"2010s25","t":85,"s":178},{"w":"2010s26","t":80,"s":180},{"w":"2010s27","t":90,"s":182},{"w":"2010s28","t":82,"s":183},{"w":"2010s29","t":95,"s":184},{"w":"2010s30","t":85,"s":184},{"w":"2010s31","t":80,"s":185},{"w":"2010s32","t":90,"s":185},{"w":"2010s33","t":85,"s":186},{"w":"2010s34","t":80,"s":186},{"w":"2010s35","t":100,"s":187},{"w":"2010s36","t":109,"s":188},{"w":"2010s37","t":95,"s":189},{"w":"2010s38","t":115,"s":190},{"w":"2010s39","t":100,"s":193},{"w":"2010s40","t":120,"s":198},{"w":"2010s41","t":125,"s":205},{"w":"2010s42","t":138,"s":211}
]},
"encoding":{
"x":{"field":"w","type":"ordinal","scale":{"type":"point","padding":0},
"axis":{"title":"Année/Semaine - Semaines de 1991s01 à 2010s42","values":["1991s01","1992s01","1993s01","1994s01","1995s01","1996s01","1997s01","1998s01","1999s01","2000s01","2001s01","2002s01","2003s01","2004s01","2005s01","2006s01","2007s01","2008s01","2009s01","2010s01"],
"labelAngle":0,"labelOverlap":false,"labelFont":"DejaVu Sans Condensed","labelFontSize":12,"labelColor":"#000000","labelPadding":2,
"domainColor":"#cccccc","domainWidth":2,"tickColor":"#cccccc","tickSize":5,"grid":false,
"titleFont":"DejaVu Sans","titleFontSize":18,"titleFontWeight":"normal","titleColor":"#111111","titlePadding":5}}
},
"layer":[
{"mark":{"type":"line","strokeWidth":1.6},
"encoding":{"y":{"field":"t","type":"quantitative","scale":{"domain":[0,1050],"nice":false,"zero":true},
"axis":{"title":"Taux d'incidence (cas pour 100 000 habitants)","values":[0,100,200,300,400,500,600,700,800,900,1000],"format":",d",
"grid":true,"gridColor":"#dddddd","gridWidth":2,"domain":false,"ticks":true,"tickSize":17,"tickColor":"#dddddd","tickWidth":2,
"labelAlign":"left","labelPadding":45,"labelOffset":-5,"labelFlush":false,"labelOverlap":false,"labelFont":"DejaVu Sans Condensed","labelFontSize":12,"labelColor":"#000000",
"titleFont":"DejaVu Sans","titleFontSize":16,"titleFontWeight":"normal","titleColor":"#111111","titleAngle":-90,"titleX":-97,"titleY":231,"titleAlign":"center","titleBaseline":"middle"}},
"color":{"datum":"Taux d’incidence","type":"nominal","scale":{"domain":["Taux d’incidence","Seuil"],"range":["#0000ff","#ff0000"]},
"legend":{"title":null,"orient":"top-right","offset":8,"labelFont":"DejaVu Sans Mono","labelFontSize":14,"labelColor":"#000000","labelAlign":"right","labelOffset":-14,"symbolOffset":140,"symbolType":"M-0.6,-1H0.6V1H-0.6Z","symbolSize":110,"strokeColor":"#cccccc","fillColor":"#ffffff","padding":8,"rowPadding":0,
"encode":{"symbols":{"update":{"fill":{"scale":"color","field":"value"},"fillOpacity":{"value":1},"stroke":{"value":"#000000"},"strokeWidth":{"value":1}}}}}}}},
{"mark":{"type":"line","strokeWidth":1.6},
"encoding":{"y":{"field":"s","type":"quantitative"},
"color":{"datum":"Seuil","type":"nominal"}}}
]
}
